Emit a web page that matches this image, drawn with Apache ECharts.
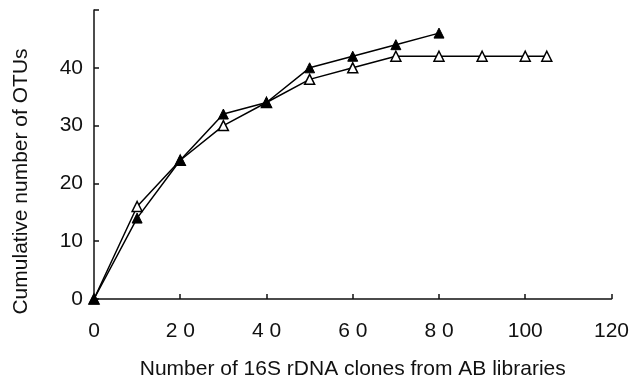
<!DOCTYPE html>
<html>
<head>
<meta charset="utf-8">
<script src="https://cdn.jsdelivr.net/npm/echarts@6/dist/echarts.min.js"></script>
<style>
  html, body {margin: 0; padding: 0; background: #fff;}
  #main {width: 632px; height: 385px;}
</style>
</head>
<body>
<div id="main"></div>
<script>
// clones sampled vs cumulative OTUs
var filledX = [0, 10, 20, 30, 40, 50, 60, 70, 80];
var filledY = [0, 14, 24, 32, 34, 40, 42, 44, 46];
var openX = [0, 10, 20, 30, 40, 50, 60, 70, 80, 90, 100, 105];
var openY = [0, 16, 24, 30, 34, 38, 40, 42, 42, 42, 42, 42];
var xTickLabels = {0: '0', 20: '2 0', 40: '4 0', 60: '6 0', 80: '8 0', 100: '100', 120: '120'};
var yTickLabels = {0: '0', 10: '10', 20: '20', 30: '30', 40: '40', 50: ''};

function pairs(xs, ys) {
  return xs.map(function (x, i) { return [x, ys[i]]; });
}

var font = 'Liberation Sans, Arial, sans-serif';
var axisColor = '#111';

var myChart = echarts.init(document.getElementById('main'));
myChart.setOption({
  animation: false,
  backgroundColor: '#fff',
  grid: {left: 94, right: 20, top: 10, bottom: 83},
  xAxis: {
    type: 'value',
    min: 0, max: 120, interval: 20,
    name: 'Number of 16S rDNA clones from AB libraries',
    nameLocation: 'middle',
    nameGap: 60,
    nameTextStyle: {fontFamily: font, fontSize: 21, color: '#111'},
    axisLine: {lineStyle: {color: axisColor, width: 1.5}},
    axisTick: {inside: true, length: 5, lineStyle: {color: axisColor, width: 1.5}},
    axisLabel: {
      margin: 22, fontFamily: font, fontSize: 21, color: '#111',
      formatter: function (v) { return xTickLabels[v]; }
    },
    splitLine: {show: false}
  },
  yAxis: {
    type: 'value',
    min: 0, max: 50, interval: 10,
    name: 'Cumulative number of OTUs',
    nameLocation: 'middle',
    nameGap: 62,
    nameTextStyle: {fontFamily: font, fontSize: 21, color: '#111', padding: [0, 54, 0, 0]},
    axisLine: {show: true, lineStyle: {color: axisColor, width: 1.5}},
    axisTick: {show: true, inside: true, length: 5, lineStyle: {color: axisColor, width: 1.5}},
    axisLabel: {
      margin: 11, fontFamily: font, fontSize: 21, color: '#111',
      formatter: function (v) { return yTickLabels[v]; }
    },
    splitLine: {show: false}
  },
  series: [
    {
      type: 'line',
      data: pairs(openX, openY),
      symbol: 'triangle',
      symbolSize: 10,
      itemStyle: {color: '#fff', borderColor: '#000', borderWidth: 1.5},
      lineStyle: {color: '#000', width: 1.5},
      z: 2
    },
    {
      type: 'line',
      data: pairs(filledX, filledY),
      symbol: 'triangle',
      symbolSize: 10,
      itemStyle: {color: '#000', borderColor: '#000', borderWidth: 1},
      lineStyle: {color: '#000', width: 1.5},
      z: 3
    }
  ]
});
</script>
</body>
</html>
